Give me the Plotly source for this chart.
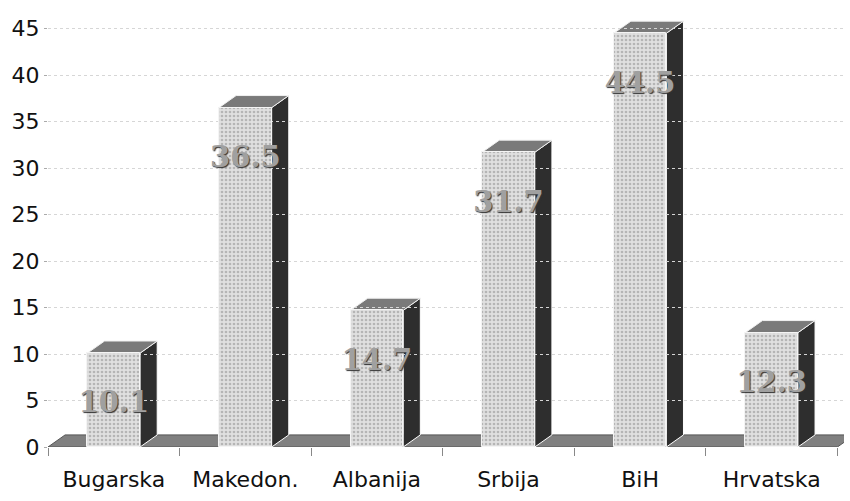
import plotly.graph_objects as go

categories = ["Bugarska", "Makedon.", "Albanija", "Srbija", "BiH", "Hrvatska"]
values = [10.1, 36.5, 14.7, 31.7, 44.5, 12.3]
labels = ["10.1", "36.5", "14.7", "31.7", "44.5", "12.3"]
y_ticks = [0, 5, 10, 15, 20, 25, 30, 35, 40, 45]

BAR_W = 0.40      # front face width (category units)
DX = 0.13         # depth offset along x (category units)
DY = 1.3          # depth offset along y (value units)
LABEL_DROP = 5.6  # label distance below bar top (value units)

fig = go.Figure()

fig.add_trace(go.Bar(
    x=categories, y=values, width=BAR_W,
    marker=dict(color="#e0e0e0", line=dict(color="#f4f4f4", width=1),
                pattern=dict(shape=".", fgcolor="#8a8a8a", bgcolor="#e0e0e0",
                             size=4, solidity=0.35)),
    hoverinfo="skip", showlegend=False,
))

shapes = []
# floor slab
x0f, x1f = -0.5, len(categories) - 0.5
shapes.append(dict(
    type="path", xref="x", yref="y", layer="below",
    path=f"M {x0f},0 L {x1f},0 L {x1f + DX},{DY} L {x0f + DX},{DY} Z",
    fillcolor="#808080", line=dict(color="#555555", width=1),
))
for i, v in enumerate(values):
    xl = i - BAR_W / 2
    xr = i + BAR_W / 2
    # side face
    shapes.append(dict(
        type="path", xref="x", yref="y", layer="below",
        path=f"M {xr},0 L {xr + DX},{DY} L {xr + DX},{v + DY} L {xr},{v} Z",
        fillcolor="#2e2e2e", line=dict(color="#ffffff", width=1),
    ))
    # top face
    shapes.append(dict(
        type="path", xref="x", yref="y", layer="below",
        path=f"M {xl},{v} L {xl + DX},{v + DY} L {xr + DX},{v + DY} L {xr},{v} Z",
        fillcolor="#7a7a7a", line=dict(color="#f0f0f0", width=1),
    ))

fig.add_trace(go.Scatter(
    x=categories, y=[v - LABEL_DROP for v in values],
    mode="text", text=labels, textposition="middle center",
    textfont=dict(family="DejaVu Serif", size=29, color="#a0a0a0",
                  weight="bold", shadow="1px 1px 1px #333"),
    hoverinfo="skip", showlegend=False, cliponaxis=False,
))

fig.update_layout(
    width=850, height=501,
    margin=dict(l=48, r=6, t=10, b=54),
    paper_bgcolor="white", plot_bgcolor="white",
    shapes=shapes,
    bargap=0,
    xaxis=dict(
        type="category", categoryorder="array", categoryarray=categories,
        range=[-0.5, 5.55],
        showgrid=False, zeroline=False, showline=False,
        ticks="outside", tickson="boundaries", ticklen=8, tickcolor="#888888",
        ticklabelstandoff=17,
        tickfont=dict(family="DejaVu Sans", size=22, color="#111"),
    ),
    yaxis=dict(
        range=[0, 47], tickmode="array", tickvals=y_ticks,
        showgrid=True, gridcolor="#d6d6d6", griddash="dot", gridwidth=1,
        zeroline=False, showline=False,
        ticks="outside", ticklen=3, tickcolor="#aaaaaa",
        tickfont=dict(family="DejaVu Sans", size=22, color="#111"),
    ),
)

fig.write_html("out.html", config={"displayModeBar": False},
               post_script="document.body.style.margin='0px';")
